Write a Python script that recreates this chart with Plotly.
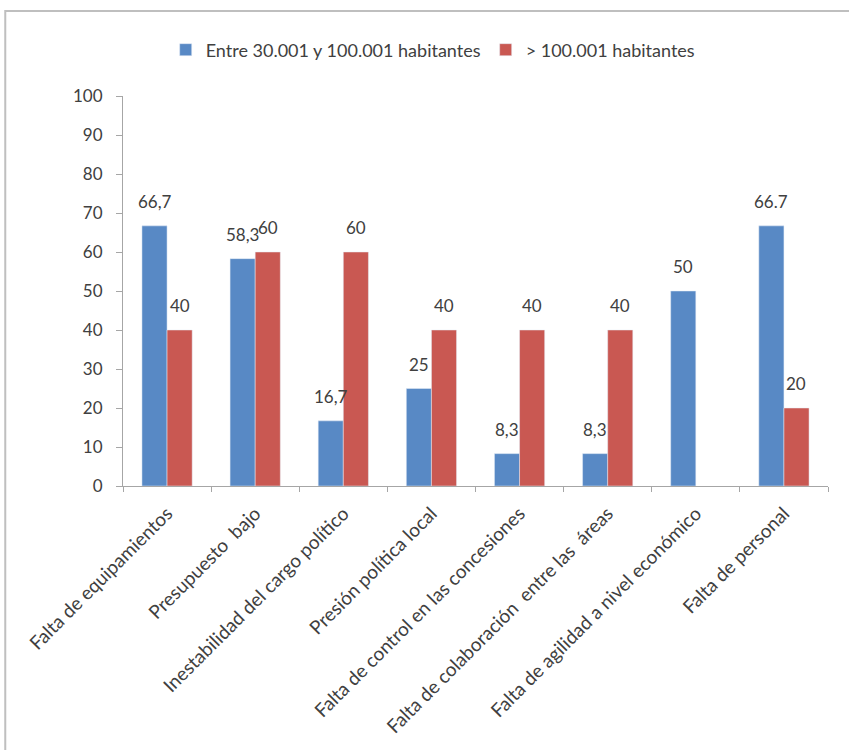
import plotly.graph_objects as go

categories = [
    "Falta de equipamientos",
    "Presupuesto  bajo",
    "Inestabilidad del cargo político",
    "Presión política local",
    "Falta de control en las concesiones",
    "Falta de colaboración  entre las  áreas",
    "Falta de agilidad a nivel económico",
    "Falta de personal",
]
serie_a_name = "Entre 30.001 y 100.001 habitantes"
serie_a = [66.7, 58.3, 16.7, 25, 8.3, 8.3, 50, 66.7]
serie_a_labels = ["66,7", "58,3", "16,7", "25", "8,3", "8,3", "50", "66.7"]
serie_b_name = "> 100.001 habitantes"
serie_b = [40, 60, 60, 40, 40, 40, None, 20]
serie_b_labels = ["40", "60", "60", "40", "40", "40", "", "20"]
y_ticks = [0, 10, 20, 30, 40, 50, 60, 70, 80, 90, 100]

FONT = "Lato, 'Open Sans', sans-serif"
TXT = "#404040"

fig = go.Figure()
fig.add_trace(go.Bar(name=serie_a_name, x=categories, y=serie_a,
                     marker=dict(color="#5889C5")))
fig.add_trace(go.Bar(name=serie_b_name, x=categories, y=serie_b,
                     marker=dict(color="#C95852")))

annotations = []
for cat, v, lab in zip(categories, serie_a, serie_a_labels):
    if v is not None and lab:
        annotations.append(dict(x=cat, y=v, text=lab, xref="x", yref="y", showarrow=False,
                                xshift=-12.5, yshift=12, yanchor="bottom",
                                font=dict(size=17, color=TXT, family=FONT)))
for cat, v, lab in zip(categories, serie_b, serie_b_labels):
    if v is not None and lab:
        annotations.append(dict(x=cat, y=v, text=lab, xref="x", yref="y", showarrow=False,
                                xshift=12.5, yshift=12, yanchor="bottom",
                                font=dict(size=17, color=TXT, family=FONT)))

fig.update_layout(
    width=849, height=750,
    margin=dict(l=123, r=21, t=96, b=264),
    paper_bgcolor="white", plot_bgcolor="white",
    barmode="group", bargap=0.43, bargroupgap=0,
    font=dict(family=FONT, color=TXT, size=17),
    legend=dict(orientation="h", x=0.44, xanchor="center", y=1.118, yanchor="middle",
                font=dict(size=18, color=TXT, family=FONT), itemwidth=30,
                traceorder="normal"),
    showlegend=True,
    annotations=annotations,
    xaxis=dict(
        tickangle=-45, showline=True, linecolor="#A6A6A6", linewidth=1,
        ticks="outside", tickson="boundaries", ticklen=5, tickcolor="#A6A6A6",
        tickfont=dict(size=19, color=TXT, family=FONT), showgrid=False,
        ticklabelstandoff=8,
    ),
    yaxis=dict(
        range=[0, 100], tickvals=y_ticks, showline=True, linecolor="#A6A6A6", linewidth=1,
        ticks="outside", ticklen=6, tickcolor="#A6A6A6", showgrid=False, zeroline=False,
        tickfont=dict(size=17, color=TXT, family=FONT), ticklabelstandoff=10,
    ),
    shapes=[dict(type="rect", xref="paper", yref="paper",
                 x0=-0.167, x1=1.2, y0=-0.8, y1=1.218,
                 line=dict(color="#BFBFBF", width=2), fillcolor="rgba(0,0,0,0)", layer="below")],
)

fig.write_html("out.html")
